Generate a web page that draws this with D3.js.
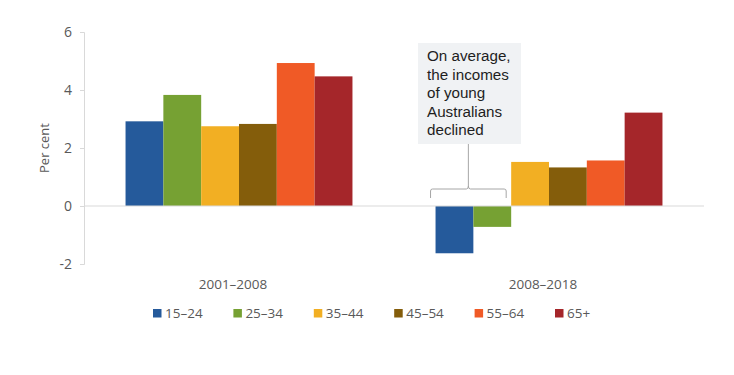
<!DOCTYPE html>
<html>
<head>
<meta charset="utf-8">
<script src="https://cdn.jsdelivr.net/npm/d3@7"></script>
<style>
  body { margin: 0; background: #fff; }
  svg text { font-family: "Open Sans", sans-serif; }
</style>
</head>
<body>
<div id="chart"></div>
<script>
// periods on the x axis
const periods = ["2001\u20132008", "2008\u20132018"];
// age groups (series)
const ageGroups = ["15\u201324", "25\u201334", "35\u201344", "45\u201354", "55\u201364", "65+"];
const colors = ["#255a9b", "#76a133", "#f2af23", "#845d0b", "#f05a26", "#a5262a"];
// average income growth, per cent
const growth2001 = [2.92, 3.83, 2.75, 2.83, 4.93, 4.47];
const growth2008 = [-1.63, -0.72, 1.52, 1.33, 1.57, 3.22];
const yTicks = [-2, 0, 2, 4, 6];
const noteLines = ["On average,", "the incomes", "of young", "Australians", "declined"];

const data = periods.map((p, i) => ({
  period: p,
  values: ageGroups.map((g, j) => ({ group: g, value: [growth2001, growth2008][i][j] }))
}));

var width = 734, height = 375;
var margin = { top: 32, left: 84, right: 30 };
var plotRight = 704, plotBottom = 264;

const svg = d3.select("#chart").append("svg")
  .attr("width", width)
  .attr("height", height);

var y = d3.scaleLinear().domain([-2, 6]).range([plotBottom, margin.top]);

var x0 = d3.scaleBand().domain(periods)
  .range([margin.left, plotRight])
  .paddingInner(0.268).paddingOuter(0.134);

var x1 = d3.scaleBand().domain(ageGroups).range([0, x0.bandwidth()]);

var color = d3.scaleOrdinal().domain(ageGroups).range(colors);

// y axis
const yAxis = svg.append("g")
  .attr("transform", "translate(" + margin.left + ",0)")
  .call(d3.axisLeft(y).tickValues(yTicks).tickSize(4).tickPadding(8).tickFormat(d => String(d)));
yAxis.select(".domain").attr("stroke", "#d9d9d9");
yAxis.selectAll(".tick line").attr("stroke", "#d9d9d9");
yAxis.selectAll(".tick text").attr("fill", "#595959").attr("font-size", 14);

svg.append("text")
  .attr("transform", "rotate(-90)")
  .attr("x", -148)
  .attr("y", 49)
  .attr("text-anchor", "middle")
  .attr("fill", "#595959")
  .attr("font-size", 13)
  .text("Per cent");

// bars
const groups = svg.selectAll(".period")
  .data(data)
  .enter().append("g")
  .attr("class", "period")
  .attr("transform", d => "translate(" + x0(d.period) + ",0)");

groups.selectAll("rect")
  .data(d => d.values)
  .enter().append("rect")
  .attr("x", d => x1(d.group))
  .attr("width", x1.bandwidth())
  .attr("y", d => y(Math.max(0, d.value)))
  .attr("height", d => Math.abs(y(d.value) - y(0)))
  .attr("fill", d => color(d.group));

// zero line
svg.append("line")
  .attr("x1", margin.left).attr("x2", plotRight)
  .attr("y1", y(0)).attr("y2", y(0))
  .attr("stroke", "#d9d9d9").attr("stroke-width", 1.2);

// category labels
svg.selectAll(".cat")
  .data(periods)
  .enter().append("text")
  .attr("class", "cat")
  .attr("x", d => x0(d) + x0.bandwidth() / 2 - 6)
  .attr("y", 289)
  .attr("text-anchor", "middle")
  .attr("fill", "#595959")
  .attr("font-size", 13.5)
  .text(d => d);

// annotation
const bx = x0(periods[1]);
const bLeft = bx + x1(ageGroups[0]) - 5, bRight = bx + x1(ageGroups[1]) + x1.bandwidth() - 5;
const bMid = (bLeft + bRight) / 2;
svg.append("rect")
  .attr("x", 418).attr("y", 43)
  .attr("width", 103).attr("height", 101)
  .attr("fill", "#f0f2f4");

svg.append("path")
  .attr("d", "M" + bLeft + ",198 V191 Q" + bLeft + ",189 " + (bLeft + 2) + ",189 H" + (bMid - 2) +
    " Q" + bMid + ",189 " + bMid + ",186 V144 M" + bMid + ",186 Q" + bMid + ",189 " + (bMid + 2) +
    ",189 H" + (bRight - 2) + " Q" + bRight + ",189 " + bRight + ",191 V198")
  .attr("fill", "none")
  .attr("stroke", "#a6a6a6")
  .attr("stroke-width", 1);

svg.append("text")
  .style("font-family", "'Liberation Sans', Arial, sans-serif")
  .attr("font-size", 15.2)
  .attr("fill", "#1e1e1e")
  .selectAll("tspan")
  .data(noteLines)
  .enter().append("tspan")
  .attr("x", 427)
  .attr("y", (d, i) => 61 + i * 18.5)
  .text(d => d);

// legend
const legend = svg.selectAll(".legend")
  .data(ageGroups)
  .enter().append("g")
  .attr("class", "legend")
  .attr("transform", (d, i) => "translate(" + (153 + i * 80.4) + ",309)");

legend.append("rect")
  .attr("width", 8.5).attr("height", 8.5)
  .attr("fill", d => color(d));

legend.append("text")
  .attr("x", 12)
  .attr("y", 8.5)
  .attr("fill", "#595959")
  .attr("font-size", 13.5)
  .text(d => d);
</script>
</body>
</html>
